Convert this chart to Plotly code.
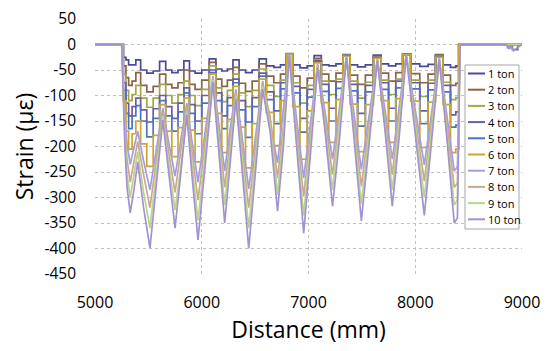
import plotly.graph_objects as go

distance_mm = [5000, 5250, 5280, 5300, 5330, 5365, 5400, 5455, 5515, 5575, 5635, 5690, 5750, 5805,
               5860, 5910, 5965, 6035, 6105, 6160, 6215, 6265, 6320, 6380, 6440, 6505, 6570, 6640,
               6710, 6765, 6820, 6885, 6955, 7020, 7085, 7155, 7225, 7290, 7355, 7425, 7495, 7570,
               7645, 7715, 7785, 7850, 7915, 8000, 8085, 8155, 8225, 8295, 8365, 8395, 8420, 8600,
               8850, 8880, 8900, 8920, 9000]

strain_1ton = [0, 0, -25, -30,
    -40, -40, -30, -50, -56, -52, -33, -50, -55, -50, -32, -52, -56, -50, -28, -48, -52, -48, -30, -50,
    -55, -50, -28, -42, -45, -40, -18, -40, -46, -42, -22, -40, -42, -38, -20, -40, -44, -40, -21, -38,
    -42, -38, -19, -38, -43, -39, -20, -40, -45, -42,
    0, 0, 0, 0, 0, 0, 0]
strain_2ton = [0, 0, -42, -65,
    -80, -72, -55, -80, -93, -82, -58, -78, -85, -75, -50, -78, -88, -70, -35, -68, -82, -70, -45, -76,
    -92, -72, -38, -62, -75, -58, -19, -62, -85, -66, -27, -58, -72, -56, -21, -60, -78, -60, -23, -56,
    -72, -55, -19, -57, -75, -58, -21, -60, -80, -76,
    0, 0, 0, 0, 0, 0, 0]
strain_3ton = [0, 0, -58, -90,
    -110, -98, -80, -105, -123, -105, -78, -100, -115, -98, -72, -100, -120, -88, -42, -85, -112, -90, -58, -95,
    -122, -90, -48, -80, -102, -70, -19, -75, -115, -80, -30, -72, -98, -68, -21, -72, -105, -74, -24, -70,
    -98, -68, -20, -70, -102, -70, -22, -74, -108, -104,
    0, 0, 0, 0, 0, 0, 0]
strain_4ton = [0, 0, -75, -115,
    -140, -122, -105, -128, -152, -126, -100, -122, -145, -115, -85, -118, -150, -100, -50, -95, -140, -104, -68, -110,
    -152, -104, -56, -93, -130, -75, -19, -82, -145, -88, -32, -78, -125, -73, -22, -78, -135, -80, -25, -75,
    -125, -72, -20, -75, -130, -76, -23, -80, -138, -132,
    0, 0, 0, -6, -2, -10, 0]
strain_5ton = [0, 0, -90, -135,
    -165, -140, -120, -150, -181, -145, -110, -140, -170, -132, -95, -135, -175, -115, -55, -110, -165, -120, -75, -128,
    -182, -122, -62, -108, -155, -87, -19, -95, -172, -103, -34, -92, -150, -86, -22, -91, -160, -93, -26, -88,
    -150, -85, -20, -87, -155, -89, -24, -93, -162, -158,
    0, 0, 0, 0, 0, 0, 0]
strain_6ton = [0, 0, -110, -170,
    -205, -175, -150, -195, -239, -178, -118, -170, -220, -163, -105, -168, -230, -145, -58, -135, -212, -147, -82, -162,
    -242, -155, -68, -133, -198, -110, -19, -122, -225, -130, -36, -114, -192, -108, -23, -117, -210, -118, -27, -110,
    -192, -106, -20, -111, -202, -113, -25, -118, -212, -205,
    0, 0, 0, 0, 0, 0, 0]
strain_7ton = [0, 0, -140, -195,
    -235, -200, -170, -228, -285, -205, -125, -192, -258, -186, -115, -192, -270, -166, -62, -155, -248, -168, -88, -185,
    -283, -178, -72, -152, -232, -126, -19, -140, -262, -150, -38, -132, -225, -124, -23, -134, -245, -136, -28, -126,
    -225, -122, -20, -128, -236, -131, -26, -137, -248, -240,
    0, 0, 0, 0, 0, 0, 0]
strain_8ton = [0, 0, -160, -225,
    -270, -230, -190, -255, -320, -226, -132, -211, -290, -206, -122, -213, -305, -186, -66, -173, -280, -188, -95, -207,
    -320, -199, -78, -140, -262, -160, -19, -159, -298, -169, -40, -148, -255, -140, -24, -151, -278, -154, -29, -142,
    -255, -138, -21, -145, -268, -148, -27, -153, -280, -272,
    0, 0, 0, 0, 0, 0, 0]
strain_9ton = [0, 0, -180, -255,
    -300, -255, -210, -290, -360, -250, -140, -232, -325, -238, -130, -240, -345, -210, -70, -192, -315, -208, -100, -230,
    -360, -222, -82, -157, -295, -178, -19, -178, -335, -190, -42, -163, -285, -155, -24, -168, -312, -171, -30, -158,
    -285, -153, -21, -160, -300, -164, -28, -172, -315, -305,
    0, 0, 0, 0, 0, 0, 0]
strain_10ton = [0, 0, -200, -280,
    -330, -285, -230, -320, -399, -280, -148, -250, -360, -250, -138, -260, -383, -230, -74, -210, -350, -235, -107, -250,
    -400, -245, -88, -170, -327, -200, -19, -190, -370, -210, -45, -170, -317, -185, -25, -180, -346, -190, -31, -165,
    -317, -180, -21, -175, -335, -185, -29, -180, -350, -340,
    0, 0, 0, -8, -3, -12, 0]

series_names = ["1 ton", "2 ton", "3 ton", "4 ton", "5 ton", "6 ton", "7 ton", "8 ton", "9 ton", "10 ton"]
series_values = [strain_1ton, strain_2ton, strain_3ton, strain_4ton, strain_5ton,
                 strain_6ton, strain_7ton, strain_8ton, strain_9ton, strain_10ton]
series_colors = ["#4A4A9C", "#8B6346", "#A3A548", "#6A5DA8", "#4A74BE",
                 "#CFA52E", "#A39EE0", "#CBA88F", "#B8D68A", "#A492D0"]
series_shapes = ["hvh", "hvh", "hvh", "hvh", "hvh", "hvh", "linear", "linear", "linear", "linear"]

x_tick_vals = [5000, 6000, 7000, 8000, 9000]
x_tick_text = ["5000", "6000", "7000", "8000", "9000"]
y_tick_vals = [50, 0, -50, -100, -150, -200, -250, -300, -350, -400, -450]
y_tick_text = ["50", "0", "-50", "-100", "-150", "-200", "-250", "-300", "-350", "-400", "-450"]

for v in series_values:
    assert len(v) == len(distance_mm), len(v)

# The page body adds an 8 px offset, so the figure is sized to fit the 550x351 window.
OFF = 8
W, H = 550 - OFF, 351 - OFF
ML, MR, MT, MB = 95 - OFF, 28, 19 - OFF, 77
PW, PH = W - ML - MR, H - MT - MB

fig = go.Figure()
for name, vals, col, shp in zip(series_names, series_values, series_colors, series_shapes):
    fig.add_trace(go.Scatter(x=distance_mm, y=vals, name=name, mode="lines",
                             line=dict(color=col, width=1.7, shape=shp), showlegend=False))

# Legend drawn as a boxed key (Excel-style compact legend); positions in window pixels
def px_x(p):
    return (p - OFF - ML) / PW

def px_y(p):
    return (H - MB - (p - OFF)) / PH

leg_left, leg_right, leg_top, leg_bottom = 465, 519, 65, 229
row0, row_step = 73.5, 16.2
shapes = [dict(type="rect", xref="paper", yref="paper",
               x0=px_x(leg_left), x1=px_x(leg_right), y0=px_y(leg_bottom), y1=px_y(leg_top),
               line=dict(color="#A6A6A6", width=1), fillcolor="white", layer="above")]
annotations = []
for i, (name, col) in enumerate(zip(series_names, series_colors)):
    yy = px_y(row0 + i * row_step)
    shapes.append(dict(type="line", xref="paper", yref="paper",
                       x0=px_x(468), x1=px_x(485), y0=yy, y1=yy,
                       line=dict(color=col, width=2), layer="above"))
    annotations.append(dict(xref="paper", yref="paper", x=px_x(486), y=yy, text=name,
                            showarrow=False, xanchor="left", yanchor="middle",
                            font=dict(size=11, color="#000000")))

font_family = "Open Sans"
grid = dict(showgrid=True, gridcolor="#BFBFBF", griddash="dot", gridwidth=1,
            zeroline=False, showline=False, ticks="", automargin=False,
            ticklabeloverflow="allow")

fig.update_layout(
    width=W, height=H,
    margin=dict(l=ML, r=MR, t=MT, b=MB),
    paper_bgcolor="white", plot_bgcolor="white",
    font=dict(family=font_family, color="#000000"),
    xaxis=dict(range=[5000, 9000], tickvals=x_tick_vals, ticktext=x_tick_text,
               tickfont=dict(size=16), ticklabelstandoff=17,
               title=dict(text="Distance (mm)", font=dict(size=23), standoff=8), **grid),
    yaxis=dict(range=[-450, 50], tickvals=y_tick_vals, ticktext=y_tick_text,
               tickfont=dict(size=15.5), ticklabelstandoff=18,
               title=dict(text="Strain (με)", font=dict(size=23), standoff=16), **grid),
    shapes=shapes,
    annotations=annotations,
    showlegend=False,
)

fig.write_html("out.html")
